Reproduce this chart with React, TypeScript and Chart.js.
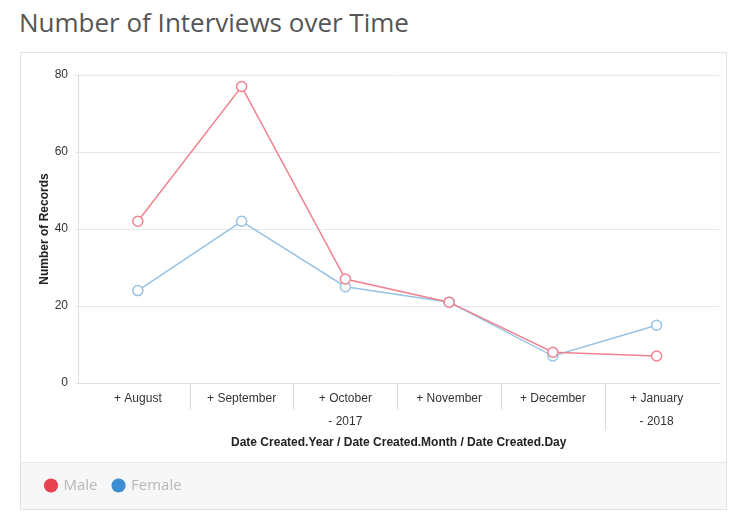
import React, { useEffect, useRef } from "react";
import { Chart, registerables } from "chart.js";

Chart.register(...registerables);

// ---- data ----
const monthLabels = ["+ August", "+ September", "+ October", "+ November", "+ December", "+ January"];
const yearLabels = ["", "", "- 2017", "", "", "- 2018"];
const yearOfMonth = [2017, 2017, 2017, 2017, 2017, 2018];
const maleCounts = [42, 77, 27, 21, 8, 7];
const femaleCounts = [24, 42, 25, 21, 7, 15];
const seriesNames = ["Male", "Female"];
const yTickValues = [0, 20, 40, 60, 80];

const lineColors = ["#f0828f", "#98c3e5"];
const legendColors = ["#e8424f", "#3d8dd3"];
const TICK_FONT = "'Liberation Sans', Arial, sans-serif";
const BAND_HEIGHT = 47;

const separatorPlugin = {
  id: "separators",
  afterDraw(chart: any) {
    const xs = chart.scales.x;
    const { ctx, chartArea } = chart;
    ctx.save();
    ctx.strokeStyle = "#dcdcdc";
    ctx.lineWidth = 1;
    for (let i = 0; i < monthLabels.length - 1; i++) {
      const px = Math.round(xs.getPixelForValue(i + 0.5)) + 0.5;
      const long = yearOfMonth[i] !== yearOfMonth[i + 1];
      ctx.beginPath();
      ctx.moveTo(px, chartArea.bottom);
      ctx.lineTo(px, chartArea.bottom + (long ? 47 : 27));
      ctx.stroke();
    }
    ctx.restore();
  },
};

const legendBandPlugin = {
  id: "legendBand",
  beforeDraw(chart: any) {
    const { ctx } = chart;
    const top = chart.height - BAND_HEIGHT;
    ctx.save();
    ctx.fillStyle = "#f7f7f7";
    ctx.fillRect(0, top, chart.width, BAND_HEIGHT);
    ctx.strokeStyle = "#e6e6e6";
    ctx.lineWidth = 1;
    ctx.beginPath();
    ctx.moveTo(0, top + 0.5);
    ctx.lineTo(chart.width, top + 0.5);
    ctx.stroke();
    ctx.restore();
  },
};

export default function App() {
  const canvasRef = useRef<HTMLCanvasElement | null>(null);

  useEffect(() => {
    if (!canvasRef.current) return;
    const chart = new Chart(canvasRef.current, {
      type: "line",
      data: {
        datasets: [
          {
            label: seriesNames[0],
            data: maleCounts.map((v, i) => ({ x: i, y: v })),
            borderColor: lineColors[0],
            backgroundColor: lineColors[0],
            borderWidth: 1.5,
            pointRadius: 5,
            pointBorderWidth: 1.5,
            pointBackgroundColor: "#ffffff",
            pointBorderColor: lineColors[0],
            tension: 0,
          },
          {
            label: seriesNames[1],
            data: femaleCounts.map((v, i) => ({ x: i, y: v })),
            borderColor: lineColors[1],
            backgroundColor: lineColors[1],
            borderWidth: 1.5,
            pointRadius: 5,
            pointBorderWidth: 1.5,
            pointBackgroundColor: "#ffffff",
            pointBorderColor: lineColors[1],
            tension: 0,
          },
        ],
      },
      options: {
        animation: false,
        responsive: false,
        devicePixelRatio: 1,
        layout: { padding: { top: 22, right: 5, left: 9, bottom: 6 } },
        scales: {
          x: {
            type: "linear",
            min: -0.577,
            max: 5.606,
            afterBuildTicks: (s: any) => {
              s.ticks = monthLabels.map((_, i) => ({ value: i }));
            },
            afterFit: (s: any) => {
              s.height = 79;
            },
            ticks: {
              autoSkip: false,
              maxRotation: 0,
              padding: 4,
              color: "#333",
              font: { family: TICK_FONT, size: 12, lineHeight: 1.92 },
              callback: (v: any) => {
                const i = Number(v);
                return yearLabels[i] ? [monthLabels[i], yearLabels[i]] : monthLabels[i];
              },
            },
            grid: { display: false, drawTicks: false },
            border: { display: true, color: "#dedede" },
            title: {
              display: true,
              text: "Date Created.Year / Date Created.Month / Date Created.Day",
              color: "#222",
              font: { family: TICK_FONT, size: 12, weight: "bold" },
              padding: { top: 0, bottom: 12 },
            },
          },
          y: {
            min: 0,
            max: 80,
            afterBuildTicks: (s: any) => {
              s.ticks = yTickValues.map((v) => ({ value: v }));
            },
            afterFit: (s: any) => {
              s.width = 48;
            },
            ticks: {
              padding: 7,
              color: "#333",
              font: { family: TICK_FONT, size: 12 },
            },
            grid: { color: "#e6e6e6", tickLength: 3, drawTicks: true },
            border: { display: true, color: "#dddddd" },
            title: {
              display: true,
              text: "Number of Records",
              color: "#222",
              font: { family: TICK_FONT, size: 12, weight: "bold" },
              padding: { top: 7, bottom: 0 },
            },
          },
        },
        plugins: {
          tooltip: { enabled: false },
          legend: {
            display: true,
            position: "bottom",
            align: "start",
            labels: {
              usePointStyle: true,
              pointStyle: "circle",
              boxWidth: 10,
              boxHeight: 10,
              padding: 16,
              color: "#b8b8b8",
              font: { family: "'Open Sans', sans-serif", size: 15 },
              generateLabels: (c: any) => {
                const items = Chart.defaults.plugins.legend.labels.generateLabels(c);
                return items.map((it: any, i: number) => ({
                  ...it,
                  fillStyle: legendColors[i],
                  strokeStyle: legendColors[i],
                  lineWidth: 0,
                  pointStyle: "circle",
                }));
              },
            },
          },
        },
      } as any,
      plugins: [separatorPlugin, legendBandPlugin],
    });
    return () => chart.destroy();
  }, []);

  return (
    <div
      style={{
        position: "absolute",
        left: 0,
        top: 0,
        width: 731,
        height: 521,
        background: "#ffffff",
        overflow: "hidden",
      }}
    >
      <div
        style={{
          position: "absolute",
          left: 19,
          top: 9,
          fontFamily: "'Open Sans', sans-serif",
          fontSize: 26,
          lineHeight: "26px",
          fontWeight: 400,
          color: "#555555",
          whiteSpace: "nowrap",
        }}
      >
        Number of Interviews over Time
      </div>
      <div
        style={{
          position: "absolute",
          left: 20,
          top: 52,
          width: 707,
          height: 458,
          border: "1px solid #e2e2e2",
          boxSizing: "border-box",
          overflow: "hidden",
        }}
      >
        <canvas
          ref={canvasRef}
          width={705}
          height={456}
          style={{ display: "block", width: 705, height: 456 }}
        />
      </div>
    </div>
  );
}
